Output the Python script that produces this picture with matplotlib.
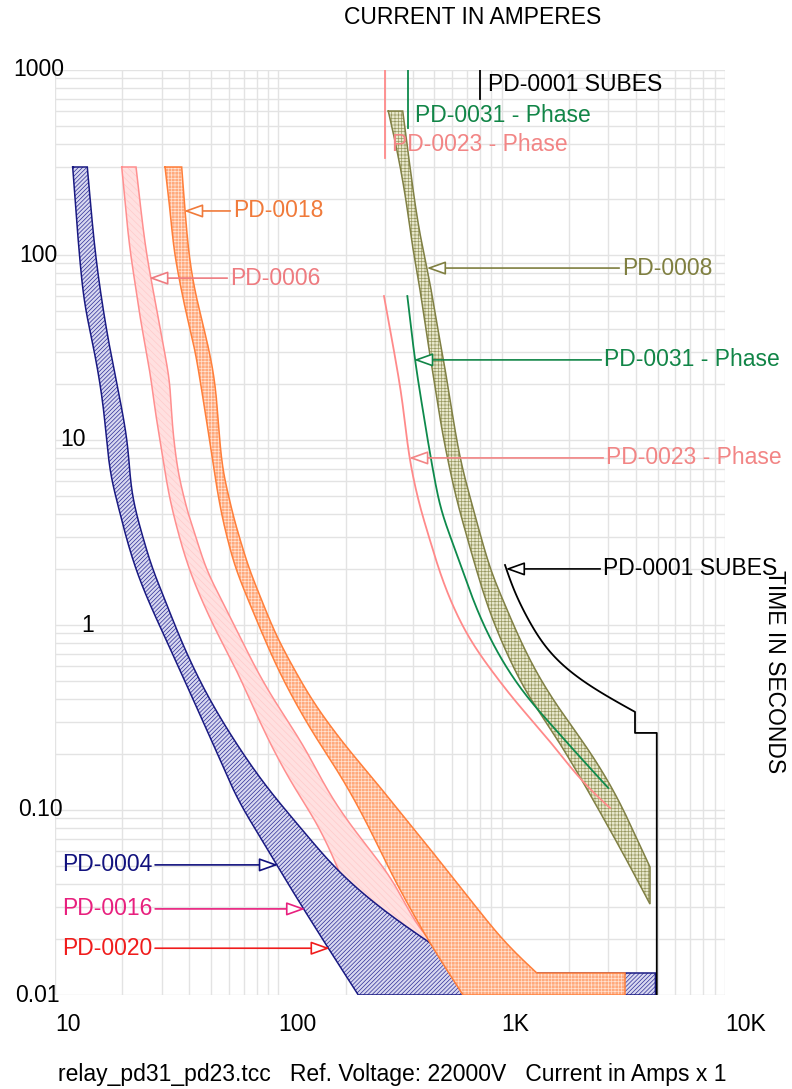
import numpy as np
import matplotlib
matplotlib.use('Agg')
import matplotlib.pyplot as plt
from matplotlib.ticker import LogLocator, NullFormatter
from matplotlib.transforms import blended_transform_factory

# ---------------- data (current in A, time in s) ----------------
x_ticks = [10, 100, 1000, 10000]
x_tick_labels = ['10', '100', '1K', '10K']
y_ticks = [0.01, 0.1, 1, 10, 100, 1000]
y_tick_labels = ['0.01', '0.10', '1', '10', '100', '1000']

# PD-0004 (navy band)
pd0004_left_i = [12.0, 12.81, 13.49, 14.95, 15.90, 16.66, 17.18, 18.00, 18.90, 20.58, 22.82, 26.08, 30.45, 37.42, 45.06, 54.24, 65.31, 84.51, 115.1, 161.8, 228.1]
pd0004_left_t = [299, 106.4, 57.1, 30.7, 20.3, 13.3, 8.83, 5.86, 4.74, 3.14, 2.06, 1.365, 0.905, 0.524, 0.318, 0.193, 0.116, 0.0688, 0.0369, 0.0191, 0.01]
pd0004_right_i = [13.95, 15.11, 16.19, 17.33, 18.90, 20.58, 21.29, 21.78, 22.36, 23.30, 24.46, 27.10, 31.09, 35.54, 41.49, 49.43, 64.64, 88.71, 125.0, 188.8, 294.2, 477.6, 759.8]
pd0004_right_t = [299, 106.4, 57.1, 34.7, 20.3, 11.8, 8.83, 5.86, 4.74, 3.84, 3.14, 2.06, 1.365, 0.905, 0.593, 0.393, 0.230, 0.133, 0.0809, 0.0456, 0.0288, 0.0191, 0.01315]
pd0004_inst_i = [4880]
pd0004_inst_t = [0.01, 0.01315]

# PD-0006 (pink band)
pd0006_left_i = [19.90, 21.67, 22.82, 24.03, 25.55, 27.10, 28.04, 30.05, 31.64, 32.73, 35.65, 39.53, 45.39, 53.14, 63.97, 74.67, 91.78, 117.5, 148.5, 188.8, 227.4]
pd0006_left_t = [299, 106.4, 70.6, 46.2, 30.7, 20.3, 14.5, 8.83, 5.86, 4.74, 3.14, 2.06, 1.365, 0.905, 0.593, 0.393, 0.230, 0.133, 0.0851, 0.0456, 0.0254]
pd0006_right_i = [23.06, 25.55, 27.10, 29.01, 30.77, 32.73, 33.31, 34.46, 36.28, 38.20, 39.53, 42.36, 46.96, 55.77, 66.19, 78.61, 95.63, 127.6, 176.3, 236.9, 309.7, 477.6, 721.6]
pd0006_right_t = [299, 106.4, 70.6, 46.2, 30.7, 20.3, 13.3, 8.83, 5.86, 4.74, 3.84, 3.14, 2.06, 1.365, 0.905, 0.593, 0.393, 0.230, 0.113, 0.0688, 0.0456, 0.0191, 0.01315]

# PD-0018 (orange band)
pd0018_left_i = [31.09, 32.73, 34.11, 36.28, 39.00, 42.36, 44.83, 47.45, 49.94, 52.59, 54.24, 55.94, 58.30, 63.97, 73.38, 84.51, 98.63, 117.5, 142.9, 195.4, 248.7, 327.1, 477.6, 671.3]
pd0018_left_t = [299, 175, 106.4, 70.6, 46.2, 30.7, 20.3, 13.3, 8.83, 5.86, 4.74, 3.84, 3.14, 2.06, 1.365, 0.905, 0.593, 0.393, 0.261, 0.145, 0.0851, 0.0434, 0.0191, 0.01]
pd0018_right_i = [36.92, 38.20, 39.61, 41.62, 45.06, 48.94, 52.05, 53.70, 55.08, 57.70, 60.76, 62.66, 66.19, 73.38, 84.24, 96.63, 116.3, 141.5, 195.4, 285.3, 417.8, 593.1, 799.9, 1068, 1436]
pd0018_right_t = [299, 175, 106.4, 70.6, 46.2, 30.7, 20.3, 13.3, 8.83, 5.86, 4.74, 3.84, 3.14, 2.06, 1.365, 0.905, 0.593, 0.393, 0.230, 0.133, 0.0751, 0.0445, 0.0281, 0.0184, 0.01315]
pd0018_inst_i = [3566]
pd0018_inst_t = [0.01, 0.01315]

# PD-0008 (olive band)
pd0008_left_i = [310.7, 339.8, 373.0, 400.9, 426.5, 458.4, 497.7, 540.5, 578.0, 624.5, 685.3, 783.6, 868.5, 1053, 1295, 1703, 2152, 2756, 3566, 4615]
pd0008_left_t = [600, 369.5, 198, 106.4, 70.6, 39.3, 21.1, 11.3, 7.51, 4.92, 3.26, 1.86, 1.25, 0.706, 0.429, 0.261, 0.1645, 0.0975, 0.0557, 0.0310]
pd0008_right_i = [360.6, 388.7, 417.8, 444.5, 477.6, 518.6, 569.1, 618.1, 664.4, 721.6, 791.8, 914.6, 1014, 1171, 1436, 1825, 2403, 3162, 4615]
pd0008_right_t = [600, 299, 160.5, 106.4, 70.6, 39.3, 21.1, 11.3, 7.15, 4.92, 3.26, 1.82, 1.365, 0.905, 0.550, 0.347, 0.219, 0.128, 0.0492]

# PD-0031 - Phase (green line)
pd0031_i = [378.1, 409.3, 445.8, 486.1, 538.8, 597.5, 673.4, 799.9, 983.1, 1295, 1703, 2243, 3003]
pd0031_t = [60.0, 27.1, 14.0, 7.51, 4.03, 2.88, 1.91, 1.105, 0.671, 0.408, 0.281, 0.193, 0.1315]
pd0031_top_i = [380, 380]
pd0031_top_t = [1000, 486]

# PD-0023 - Phase (salmon line)
pd0023_i = [297.2, 327.1, 356.9, 385.9, 430.9, 477.6, 529.5, 607.4, 721.6, 917.5, 1208, 1591, 2023, 2487, 3056]
pd0023_t = [60.0, 31.8, 17.1, 8.09, 4.34, 2.88, 1.91, 1.25, 0.830, 0.550, 0.360, 0.248, 0.171, 0.128, 0.1025]
pd0023_top_i = [300, 300]
pd0023_top_t = [1000, 335]

# PD-0001 SUBES (black line): curve part then definite-time steps
pd0001_i = [1035, 1128, 1295, 1591, 2023, 2756, 3954]
pd0001_t = [2.11, 1.55, 1.105, 0.733, 0.550, 0.429, 0.339]
pd0001_step_i = [3954, 3954, 4949, 4949]
pd0001_step_t = [0.339, 0.261, 0.261, 0.01]
pd0001_top_i = [800, 800]
pd0001_top_t = [1000, 697]

# labels: text, arrow tip (I, t), text anchor current
label_names = ['PD-0018', 'PD-0006', 'PD-0008', 'PD-0031 - Phase', 'PD-0023 - Phase',
               'PD-0001 SUBES', 'PD-0004', 'PD-0016', 'PD-0020']
label_tip_i = [37.8, 26.4, 462, 405, 385, 1043, 99.7, 132, 170]
label_tip_t = [173, 75, 85, 27.1, 8.0, 2.01, 0.0505, 0.0292, 0.0179]
label_txt_i = [62.7, 60.8, 3459, 2875, 2934, 2845, 10.75, 10.75, 10.75]

top_label_names = ['PD-0001 SUBES', 'PD-0031 - Phase', 'PD-0023 - Phase']
top_label_i = [869, 410, 323]
top_label_t = [830, 571, 398]

# ---------------- styling ----------------
plt.rcParams['font.family'] = ['Liberation Sans', 'DejaVu Sans']
plt.rcParams['hatch.linewidth'] = 0.5
FS = 16.5

NAVY = '#1a1a82'
PINK_E = '#ff8f8f'
ORANGE_E = '#ff7f3a'
OLIVE_E = '#808045'
GREEN = '#0e8a4c'
SALMON = '#ff8a8a'


def pchip(x, y, xn):
    x = np.asarray(x, float)
    y = np.asarray(y, float)
    h = np.diff(x)
    d = np.diff(y) / h
    n = len(x)
    m = np.zeros(n)
    for k in range(1, n - 1):
        if d[k - 1] * d[k] > 0:
            w1 = 2 * h[k] + h[k - 1]
            w2 = h[k] + 2 * h[k - 1]
            m[k] = (w1 + w2) / (w1 / d[k - 1] + w2 / d[k])
    m[0] = d[0]
    m[-1] = d[-1]
    idx = np.clip(np.searchsorted(x, xn) - 1, 0, n - 2)
    hh = h[idx]
    s = (xn - x[idx]) / hh
    h00 = 2 * s ** 3 - 3 * s ** 2 + 1
    h10 = s ** 3 - 2 * s ** 2 + s
    h01 = -2 * s ** 3 + 3 * s ** 2
    h11 = s ** 3 - s ** 2
    return h00 * y[idx] + h10 * hh * m[idx] + h01 * y[idx + 1] + h11 * hh * m[idx + 1]


def smooth(I, t, step=0.01, sigma=0.08):
    """Draw a smooth curve through the read points (log-log), lightly low-passed."""
    lt = -np.log10(np.asarray(t, float))
    li = np.log10(np.asarray(I, float))
    n = max(int((lt[-1] - lt[0]) / step), 20)
    ltn = np.linspace(lt[0], lt[-1], n)
    lin = pchip(lt, li, ltn)
    k = int(3 * sigma / step)
    if k > 0 and n > 3:
        pad_l = 2 * lin[0] - lin[1:k + 1][::-1]
        pad_r = 2 * lin[-1] - lin[-k - 1:-1][::-1]
        ext = np.concatenate([pad_l, lin, pad_r])
        g = np.exp(-0.5 * (np.arange(-k, k + 1) * step / sigma) ** 2)
        g /= g.sum()
        lin = np.convolve(ext, g, mode='valid')
    return list(10 ** lin), list(10 ** (-ltn))


fig = plt.figure(figsize=(7.92, 10.89), dpi=100)
ax = fig.add_axes([55 / 792, 94 / 1089, 670 / 792, 925 / 1089])
ax.set_xscale('log')
ax.set_yscale('log')
ax.set_xlim(10, 10000)
ax.set_ylim(0.01, 1000)
for s in ax.spines.values():
    s.set_visible(False)
ax.xaxis.set_minor_locator(LogLocator(base=10, subs=range(2, 10), numticks=50))
ax.yaxis.set_minor_locator(LogLocator(base=10, subs=range(2, 10), numticks=50))
ax.xaxis.set_minor_formatter(NullFormatter())
ax.yaxis.set_minor_formatter(NullFormatter())
ax.grid(True, which='both', color='#e3e3e3', lw=1.0)
ax.set_axisbelow(True)
ax.set_xticks(x_ticks)
ax.set_xticklabels(x_tick_labels, fontsize=FS)
ax.set_yticks(y_ticks)
ax.set_yticklabels([])
ax.tick_params(which='both', length=0)
ax.tick_params(axis='x', pad=13)
for lab in ax.get_xticklabels():
    lab.set_ha('left')

# y tick labels placed as in the reference (irregular horizontal positions)
ylab_px = [37, 40, 88, 73, 38, 39]
ytrans = blended_transform_factory(ax.transAxes, ax.transData)
for val, txt, px in zip(y_ticks, y_tick_labels, ylab_px):
    ax.text((px - 55) / 670, val, txt, transform=ytrans, fontsize=FS,
            ha='center', va='center', clip_on=False)


def band(li, lt, ri, rt, extra_i, extra_t, face, hatch_col, hatch, edge, z):
    lx, ly = smooth(li, lt)
    rx, ry = smooth(ri, rt)
    if extra_i:
        xs = lx + [extra_i[0]] * len(extra_t) + rx[::-1]
        ys = ly + list(extra_t) + ry[::-1]
    else:
        xs = lx + rx[::-1]
        ys = ly + ry[::-1]
    ax.fill(xs, ys, facecolor=face, edgecolor=hatch_col, hatch=hatch, lw=0, zorder=z)
    ax.plot(xs + [xs[0]], ys + [ys[0]], color=edge, lw=1.1, zorder=z + 0.1, solid_joinstyle='miter')


band(pd0006_left_i, pd0006_left_t, pd0006_right_i, pd0006_right_t, None, None,
     '#ffe0e0', '#ffcaca', '\\\\\\\\\\', PINK_E, 2)
band(pd0004_left_i, pd0004_left_t, pd0004_right_i, pd0004_right_t, pd0004_inst_i, pd0004_inst_t,
     '#d8d8f0', '#2c2c96', '////////', NAVY, 3)
band(pd0018_left_i, pd0018_left_t, pd0018_right_i, pd0018_right_t, pd0018_inst_i, pd0018_inst_t,
     '#ffa97c', '#ffe2d2', '+++++', ORANGE_E, 4)
band(pd0008_left_i, pd0008_left_t, pd0008_right_i, pd0008_right_t, None, None,
     '#e8e8cc', '#999962', '+++++', OLIVE_E, 5)

gx, gy = smooth(pd0031_i, pd0031_t)
ax.plot(gx, gy, color=GREEN, lw=1.3, zorder=6)
ax.plot(pd0031_top_i, pd0031_top_t, color=GREEN, lw=1.3, zorder=6)
sx, sy = smooth(pd0023_i, pd0023_t)
ax.plot(sx, sy, color=SALMON, lw=1.3, zorder=6)
ax.plot(pd0023_top_i, pd0023_top_t, color=SALMON, lw=1.3, zorder=6)
bx, by = smooth(pd0001_i, pd0001_t)
ax.plot(bx + pd0001_step_i, by + pd0001_step_t, color='black', lw=1.3, zorder=6)
ax.plot(pd0001_top_i, pd0001_top_t, color='black', lw=1.3, zorder=6)

label_colors = ['#f07a3a', '#ee7b80', '#7f7f40', '#118547', '#f28585', '#000000', '#12127e', '#e8207e', '#f01c1c']
for name, ti, tt, xi, col in zip(label_names, label_tip_i, label_tip_t, label_txt_i, label_colors):
    ax.annotate(name, xy=(ti, tt), xytext=(xi, tt), color=col, fontsize=FS,
                ha='left', va='center', zorder=8, annotation_clip=False,
                arrowprops=dict(arrowstyle='-|>,head_length=0.7,head_width=0.25',
                                fc='white', ec=col, lw=1.2, shrinkA=0, shrinkB=0))

top_colors = ['#000000', '#118547', '#f28585']
for name, xi, yt, col in zip(top_label_names, top_label_i, top_label_t, top_colors):
    ax.text(xi, yt, name, color=col, fontsize=FS, ha='left', va='center', zorder=8)

fig.text(473 / 792, 1 - 18 / 1089, 'CURRENT IN AMPERES', fontsize=FS, ha='center', va='center')
fig.text(775 / 792, 1 - 672 / 1089, 'TIME IN SECONDS', fontsize=FS, ha='center', va='center', rotation=-90)
fig.text(392 / 792, 1 - 1075 / 1089, 'relay_pd31_pd23.tcc   Ref. Voltage: 22000V   Current in Amps x 1',
         fontsize=FS, ha='center', va='center')

fig.savefig('out.png', dpi=100, facecolor='white')
